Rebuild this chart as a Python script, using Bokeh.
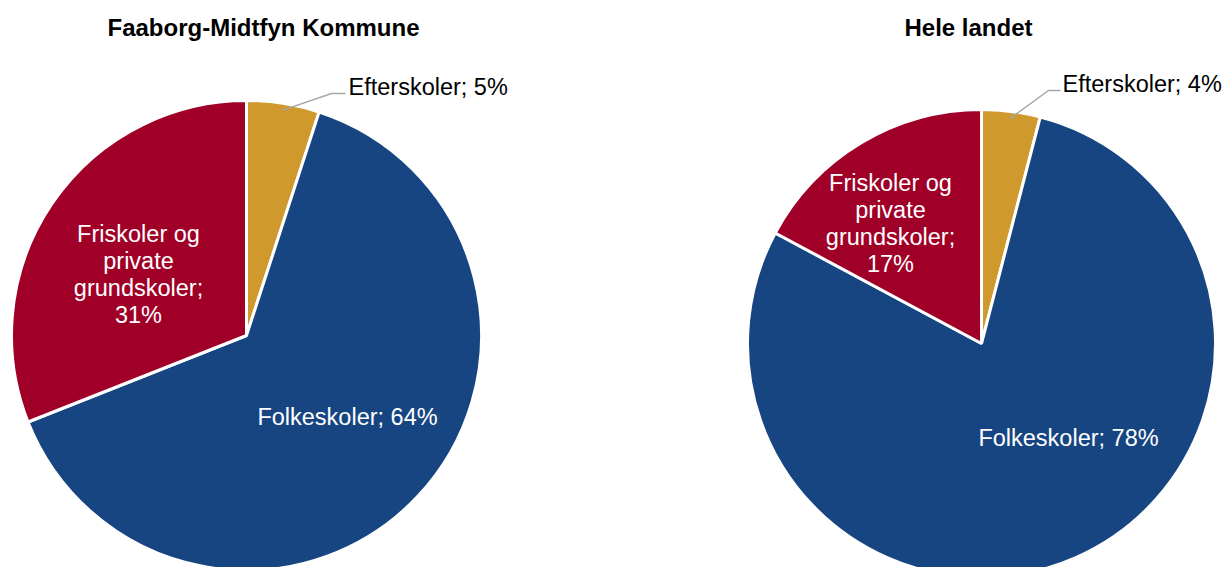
import math
from bokeh.plotting import figure
from bokeh.models import Range1d, ColumnDataSource
from bokeh.core.properties import value
from bokeh.embed import file_html
from bokeh.resources import INLINE

# ---- data ----
categories = ["Efterskoler", "Folkeskoler", "Friskoler og private grundskoler"]
label_text_left = ["Efterskoler; 5%", "Folkeskoler; 64%", "Friskoler og\nprivate\ngrundskoler;\n31%"]
label_text_right = ["Efterskoler; 4%", "Folkeskoler; 78%", "Friskoler og\nprivate\ngrundskoler;\n17%"]
values_left = [5, 64, 31]
values_right = [4, 78, 17]
titles = ["Faaborg-Midtfyn Kommune", "Hele landet"]
colors = ["#D0992E", "#164581", "#A00028"]

FONT = "Liberation Sans"

W, H = 1229, 567
p = figure(width=W, height=H, output_backend="svg", toolbar_location=None,
           x_range=Range1d(0, W), y_range=Range1d(-H, 0),
           min_border=0, outline_line_color=None)
p.axis.visible = False
p.grid.visible = False
p.background_fill_color = "white"


def draw_pie(cx, cy, r, vals, labels, label_pos, title, title_x, leader_elbow, leader_end, eft_pos):
    total = float(sum(vals))
    starts, ends = [], []
    cum = 0.0
    for v in vals:
        starts.append(math.pi / 2 - 2 * math.pi * cum / total)
        cum += v
        ends.append(math.pi / 2 - 2 * math.pi * cum / total)
    src = ColumnDataSource(dict(x=[cx] * len(vals), y=[-cy] * len(vals),
                                start=starts, end=ends, color=colors))
    p.wedge(x="x", y="y", radius=r, start_angle="start", end_angle="end",
            direction="clock", fill_color="color", line_color="white",
            line_width=3, source=src)
    # title
    p.text(x=[title_x], y=[-27], text=[title], text_font=value(FONT),
           text_font_size="24px", text_font_style="bold", text_color="black",
           text_align="center", text_baseline="middle")
    # inside labels (Folkeskoler, Friskoler)
    for i in (1, 2):
        lx, ly = label_pos[i]
        p.text(x=[lx], y=[-ly], text=[labels[i]], text_font=value(FONT),
               text_font_size="23.5px", text_color="white",
               text_align="center", text_baseline="middle",
               text_line_height=1.04)
    # Efterskoler outside label with leader line
    mid = (starts[0] + ends[0]) / 2
    sx = cx + 0.97 * r * math.cos(mid)
    sy = -cy + 0.97 * r * math.sin(mid)
    p.line(x=[sx, leader_elbow[0], leader_end[0]],
           y=[sy, -leader_elbow[1], -leader_end[1]],
           line_color="#A6A6A6", line_width=1.5)
    p.text(x=[eft_pos[0]], y=[-eft_pos[1]], text=[labels[0]], text_font=value(FONT),
           text_font_size="23.5px", text_color="black",
           text_align="left", text_baseline="middle")


draw_pie(246, 335, 235, values_left, label_text_left,
         {1: (347, 416), 2: (138, 274)}, titles[0], 263,
         (331, 93), (345, 93), (348, 86))
draw_pie(981, 343, 234, values_right, label_text_right,
         {1: (1068, 437), 2: (890, 223)}, titles[1], 968,
         (1048, 90), (1060, 90), (1062, 83))

open("out.html", "w").write(file_html(p, INLINE))
